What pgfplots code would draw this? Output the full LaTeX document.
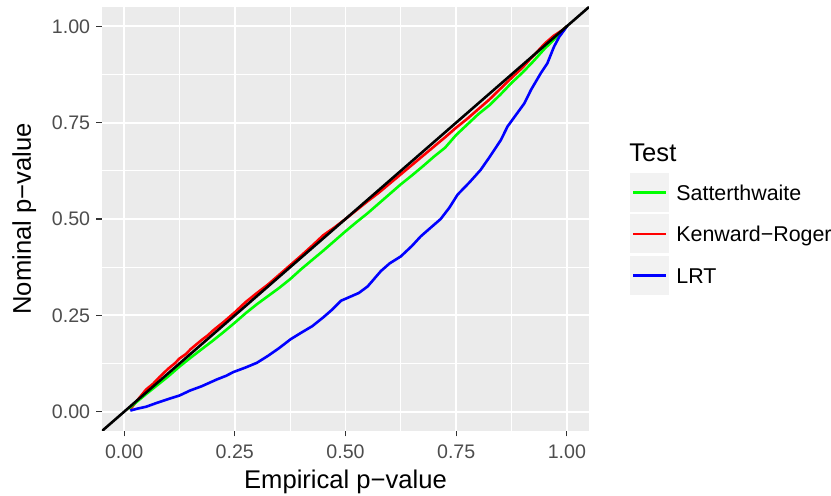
\documentclass[border=0pt]{standalone}
\usepackage{fontspec}
\setmainfont{Liberation Sans}
\usepackage{pgfplots}
\pgfplotsset{compat=1.18}
\definecolor{panelbg}{HTML}{EBEBEB}
\definecolor{keybg}{HTML}{F2F2F2}
\definecolor{ticktext}{HTML}{4D4D4D}
\definecolor{tickmark}{HTML}{333333}
\definecolor{satt}{HTML}{00FF00}
\definecolor{kr}{HTML}{FF0000}
\definecolor{lrt}{HTML}{0000FF}

\begin{document}
\begin{tikzpicture}
\begin{axis}[
    scale only axis,
    width=243.5pt, height=212pt,
    xmin=-0.05, xmax=1.05, ymin=-0.05, ymax=1.05,
    axis background/.style={fill=panelbg},
    axis line style={draw=none},
    xtick={0,0.25,0.5,0.75,1},
    ytick={0,0.25,0.5,0.75,1},
    xticklabels={0.00,0.25,0.50,0.75,1.00},
    yticklabels={0.00,0.25,0.50,0.75,1.00},
    minor xtick={0.125,0.375,0.625,0.875},
    minor ytick={0.125,0.375,0.625,0.875},
    grid=both,
    major grid style={white, line width=0.9pt},
    minor grid style={white, line width=0.45pt},
    tick align=outside,
    xtick pos=lower, ytick pos=lower,
    major tick length=2.75pt, minor tick length=0pt,
    tick style={tickmark, line width=0.55pt},
    ticklabel style={font=\fontsize{9.8}{11}\selectfont, text=ticktext},
    /pgf/number format/assume math mode=true,
    xticklabel style={inner sep=0pt, yshift=-4pt},
    yticklabel style={inner sep=0pt, xshift=-3pt},
    line join=round,
]
% Kenward-Roger
\addplot[kr, line width=1.3pt] coordinates {
(0.015,0.008) (0.03,0.030) (0.05,0.058) (0.065,0.072) (0.08,0.090) (0.10,0.112)
(0.115,0.126) (0.125,0.138) (0.14,0.150) (0.15,0.162) (0.175,0.186) (0.19,0.199)
(0.20,0.210) (0.225,0.233) (0.25,0.258) (0.275,0.285) (0.30,0.308) (0.325,0.330)
(0.35,0.355) (0.375,0.380) (0.40,0.405) (0.425,0.431) (0.45,0.458) (0.475,0.478)
(0.50,0.500) (0.525,0.523) (0.55,0.546) (0.575,0.568) (0.60,0.592) (0.625,0.616)
(0.65,0.640) (0.675,0.664) (0.70,0.688) (0.725,0.712) (0.75,0.737) (0.775,0.760)
(0.80,0.785) (0.825,0.810) (0.85,0.838) (0.875,0.866) (0.90,0.893) (0.915,0.912)
(0.93,0.930) (0.95,0.955) (0.97,0.975) (0.99,0.990) (1.00,1.000)
};
% Satterthwaite
\addplot[satt, line width=1.3pt] coordinates {
(0.01,0.008) (0.03,0.027) (0.05,0.046) (0.075,0.069) (0.10,0.092) (0.125,0.117)
(0.15,0.140) (0.175,0.162) (0.20,0.184) (0.225,0.207) (0.25,0.231) (0.275,0.256)
(0.30,0.279) (0.325,0.300) (0.35,0.321) (0.375,0.344) (0.40,0.370) (0.425,0.394)
(0.45,0.418) (0.475,0.443) (0.50,0.468) (0.525,0.492) (0.55,0.515) (0.575,0.540)
(0.60,0.565) (0.625,0.590) (0.65,0.613) (0.675,0.637) (0.70,0.662) (0.725,0.685)
(0.75,0.718) (0.775,0.745) (0.80,0.772) (0.825,0.795) (0.85,0.823) (0.875,0.853)
(0.90,0.880) (0.925,0.910) (0.95,0.942) (0.975,0.970) (0.99,0.988) (1.00,1.000)
};
% LRT
\addplot[lrt, line width=1.3pt] coordinates {
(0.014,0.003) (0.03,0.008) (0.05,0.013) (0.074,0.023) (0.10,0.033) (0.125,0.042)
(0.149,0.055) (0.175,0.066) (0.21,0.084) (0.23,0.093) (0.247,0.103) (0.275,0.115)
(0.30,0.127) (0.325,0.145) (0.35,0.165) (0.376,0.188) (0.40,0.205) (0.425,0.222)
(0.45,0.245) (0.47,0.265) (0.49,0.288) (0.51,0.298) (0.53,0.308) (0.55,0.325)
(0.58,0.365) (0.60,0.385) (0.625,0.403) (0.65,0.430) (0.67,0.455) (0.69,0.475)
(0.715,0.500) (0.735,0.530) (0.753,0.563) (0.78,0.595) (0.805,0.627) (0.825,0.660)
(0.851,0.705) (0.866,0.740) (0.885,0.770) (0.904,0.800) (0.919,0.835) (0.941,0.878)
(0.956,0.904) (0.971,0.947) (0.983,0.973) (0.994,0.990) (1.00,1.000)
};
% reference line y = x
\addplot[black, line width=1.3pt] coordinates {(-0.05,-0.05) (1.05,1.05)};
\end{axis}

\begin{scope}[shift={(current axis.south west)}]
  % axis titles
  \node[anchor=base, inner sep=0pt, font=\fontsize{12.8}{15}\selectfont]
    at (121.75pt,-29pt) {Empirical p−value};
  \node[anchor=base, rotate=90, inner sep=0pt, font=\fontsize{12.8}{15}\selectfont]
    at (-35.5pt,106pt) {Nominal p−value};
  % legend
  \node[anchor=base west, inner sep=0pt, font=\fontsize{12.8}{15}\selectfont]
    at (263.5pt,134.5pt) {Test};
  \fill[keybg] (264pt,109.5pt) rectangle ++(19.5pt,19.5pt);
  \fill[keybg] (264pt,88.75pt) rectangle ++(19.5pt,19.5pt);
  \fill[keybg] (264pt,68pt) rectangle ++(19.5pt,19.5pt);
  \draw[satt, line width=1.3pt] (265.5pt,119.25pt) -- (282pt,119.25pt);
  \draw[kr, line width=1.3pt] (265.5pt,98.5pt) -- (282pt,98.5pt);
  \draw[lrt, line width=1.3pt] (265.5pt,77.75pt) -- (282pt,77.75pt);
  \begin{scope}[every node/.style={anchor=base west, inner sep=0pt, font=\fontsize{10.7}{13}\selectfont}]
    \node at (287pt,115.25pt) {Satterthwaite};
    \node at (287pt,94.5pt) {Kenward−Roger};
    \node at (287pt,73.75pt) {LRT};
  \end{scope}
  \pgfresetboundingbox
  \path (-51pt,-32.5pt) rectangle (364.5pt,215.5pt);
\end{scope}
\end{tikzpicture}
\end{document}
